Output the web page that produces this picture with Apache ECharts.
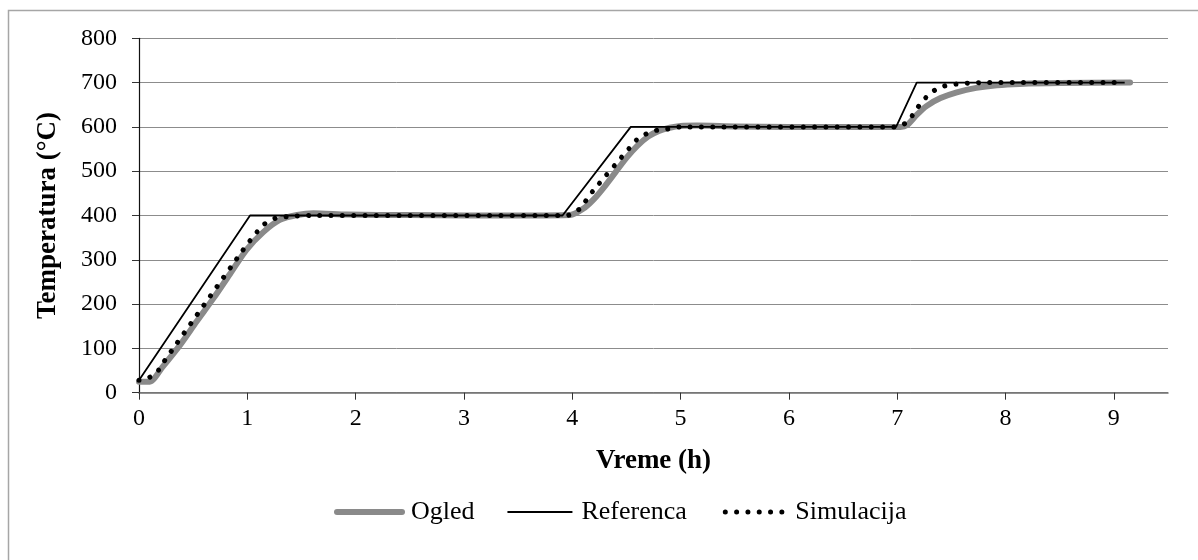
<!DOCTYPE html>
<html>
<head>
<meta charset="utf-8">
<script src="https://cdn.jsdelivr.net/npm/echarts@6/dist/echarts.min.js"></script>
<style>
html,body{margin:0;padding:0;background:#fff;}
#chart{width:1198px;height:560px;}
</style>
</head>
<body>
<div id="chart"></div>
<script>
// Time axis ticks (h)
const xTicks = [0, 1, 2, 3, 4, 5, 6, 7, 8, 9];

// Referenca
const refX = [0, 1.025, 3.91, 4.54, 6.99, 7.18, 9.1];
const refY = [28, 400, 400, 600, 600, 700, 700];

// Ogled (measured)
const ogX = [0, 0.1, 0.22, 0.38, 0.53, 0.69, 0.84, 0.99, 1.15, 1.30, 1.46, 1.61, 1.92, 2.5, 3.0, 3.5,
  3.98, 4.10, 4.20, 4.30, 4.40, 4.50, 4.60, 4.70, 4.80, 4.90, 5.0, 5.15, 5.5, 6.0, 6.5, 7.03, 7.09, 7.18, 7.27, 7.40, 7.55, 7.73, 7.92, 8.13, 8.5, 9.15];
const ogY = [25, 25, 59, 108, 160, 214, 268, 322, 363, 390, 401, 405, 402, 401, 400, 400,
  401, 415, 437, 466, 498, 530, 557, 578, 591, 598, 602, 603, 601, 600, 600, 600, 604, 627, 647, 665, 678, 688, 694, 697, 699, 700];

// Simulacija
const simX = [0, 0.1, 0.18, 0.23, 0.96, 1.025, 1.09, 1.16, 1.26, 1.36, 1.46, 1.6, 3.92, 3.97, 4.07, 4.13, 4.19, 4.53, 4.60, 4.69, 4.79, 4.90, 5.0, 6.99, 7.08, 7.15, 7.21, 7.28, 7.36, 7.46, 7.56, 7.66, 7.8, 9.1];
const simY = [28, 35, 51, 70, 322, 343, 363, 381, 394, 397, 399, 400, 400, 401, 415, 435, 455, 553, 572, 585, 593, 596, 600, 600, 609, 629, 651, 670, 685, 694, 697, 699, 700, 700];

const zip = (a, b) => a.map((v, i) => [v, b[i]]);
const FONT = '"Liberation Serif", "Times New Roman", serif';

const ogStyle = {color: '#8a8a8a', width: 6, cap: 'round', join: 'round'};
const refStyle = {color: '#000', width: 1.8};
const simStyle = {color: '#000', width: 5, type: [0.01, 11.3], cap: 'round'};

const chart = echarts.init(document.getElementById('chart'), null, {renderer: 'canvas'});
chart.setOption({
  animation: false,
  backgroundColor: '#fff',
  textStyle: {fontFamily: FONT, color: '#000'},
  graphic: [{
    type: 'rect', silent: true, z: -1,
    shape: {x: 8.5, y: 10.5, width: 1400, height: 800},
    style: {fill: 'none', stroke: '#a6a6a6', lineWidth: 1.5}
  }],
  grid: {left: 139, right: 30, top: 38.3, bottom: 167.3},
  legend: {
    left: 329, top: 494,
    itemWidth: 65, itemHeight: 12, itemGap: 32,
    itemStyle: {opacity: 0},
    textStyle: {fontFamily: FONT, fontSize: 26, color: '#000', padding: [0, 0, 0, 4]},
    data: [
      {name: 'Ogled', lineStyle: {width: 6, color: '#8a8a8a', cap: 'round'}},
      {name: 'Referenca', lineStyle: {width: 1.8, color: '#000'}},
      {name: 'Simulacija', lineStyle: {width: 5, color: '#000', type: [0.01, 11.3], cap: 'round', dashOffset: -4}}
    ]
  },
  xAxis: {
    type: 'value', min: 0, max: 9.5,
    name: 'Vreme (h)', nameLocation: 'middle', nameGap: 54.5,
    nameTextStyle: {fontFamily: FONT, fontSize: 27, fontWeight: 'bold', color: '#000'},
    axisLine: {show: true, lineStyle: {color: '#6f6f6f', width: 1.5}},
    axisTick: {show: true, length: 7, lineStyle: {color: '#333'}, customValues: xTicks},
    axisLabel: {fontFamily: FONT, fontSize: 24, color: '#000', margin: 14, customValues: xTicks},
    splitLine: {show: false}
  },
  yAxis: {
    type: 'value', min: 0, max: 800, interval: 100,
    name: 'Temperatura (°C)', nameLocation: 'middle', nameGap: 77.5, nameRotate: 90,
    nameTextStyle: {fontFamily: FONT, fontSize: 27, fontWeight: 'bold', color: '#000'},
    axisLine: {show: true, lineStyle: {color: '#111', width: 1.2}},
    axisTick: {show: true, length: 7, lineStyle: {color: '#333'}},
    axisLabel: {fontFamily: FONT, fontSize: 24, color: '#000', margin: 22},
    splitLine: {show: true, lineStyle: {color: '#8c8c8c', width: 1}}
  },
  series: [
    {
      name: 'Ogled', type: 'line', data: zip(ogX, ogY), symbol: 'none', smooth: 0.25,
      lineStyle: ogStyle, itemStyle: {color: '#8a8a8a'}, z: 1
    },
    {
      name: 'Referenca', type: 'line', data: zip(refX, refY), symbol: 'none',
      lineStyle: refStyle, itemStyle: {color: '#000'}, z: 2
    },
    {
      name: 'Simulacija', type: 'line', data: zip(simX, simY), symbol: 'none', smooth: 0.2,
      lineStyle: simStyle, itemStyle: {color: '#000'}, z: 3
    }
  ]
});
</script>
</body>
</html>
